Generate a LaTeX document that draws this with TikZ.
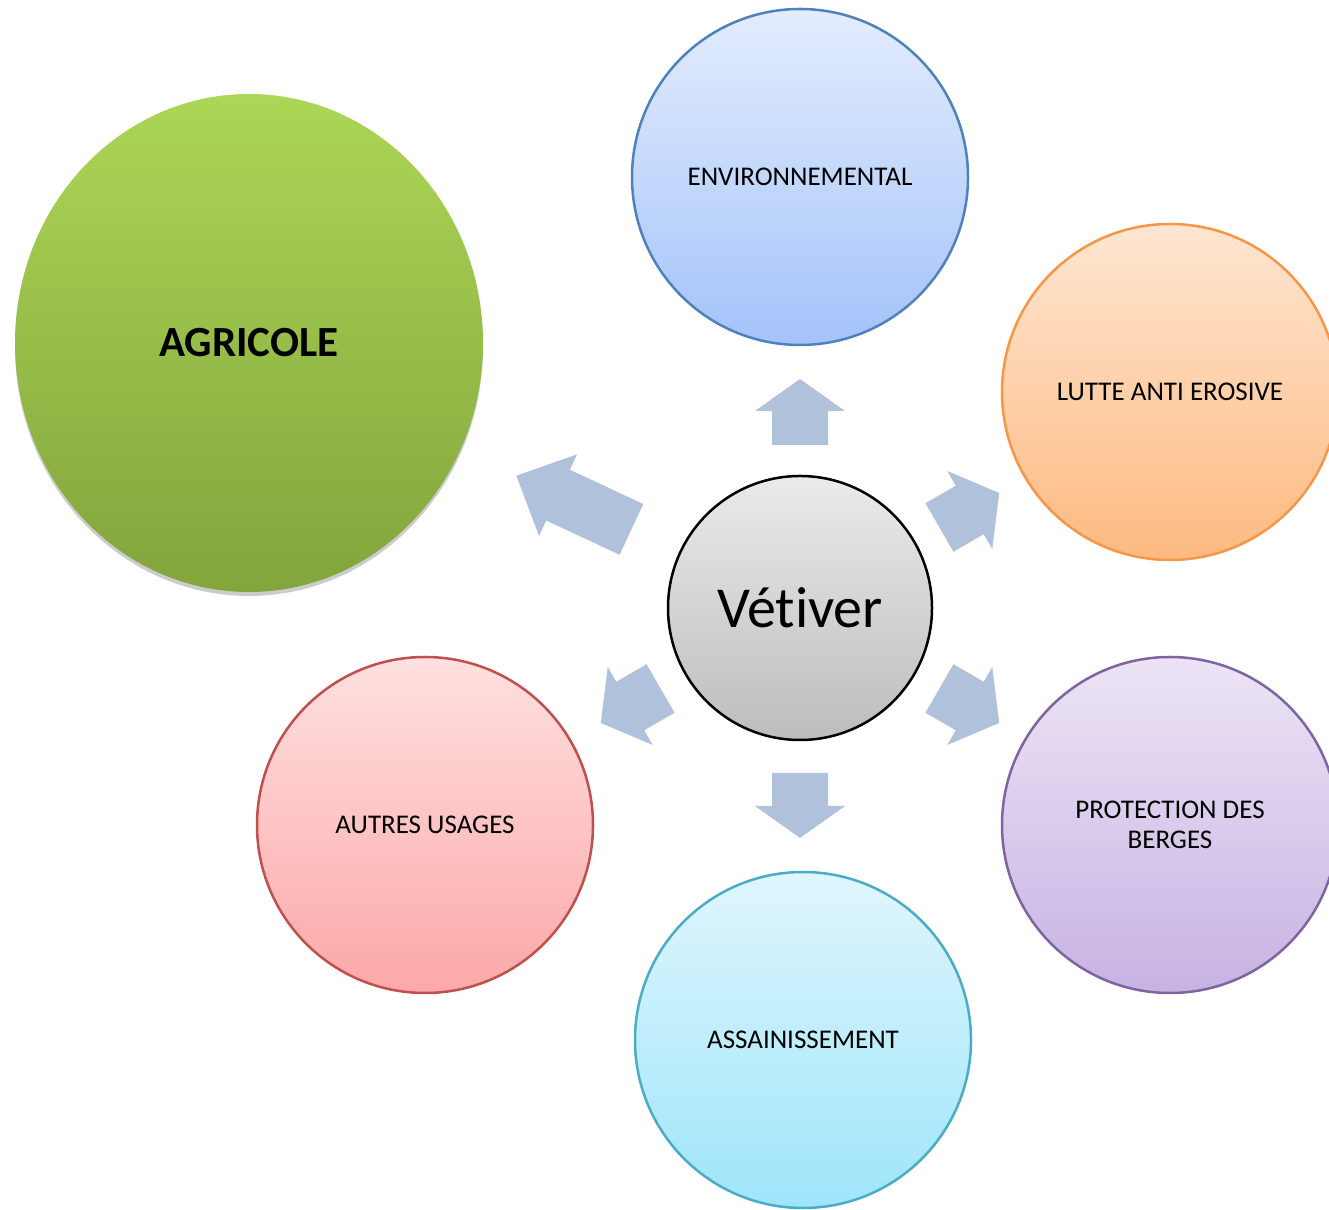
\documentclass[tikz,border=0pt]{standalone}
\usepackage{fontspec}
\setmainfont[Ligatures=NoCommon]{Carlito}
\usetikzlibrary{shadows,shapes.geometric}

\definecolor{spokeblue}{RGB}{176,193,220}
\definecolor{envline}{RGB}{79,129,189}
\definecolor{lutteline}{RGB}{247,150,70}
\definecolor{bergeline}{RGB}{128,100,162}
\definecolor{assainline}{RGB}{75,172,198}
\definecolor{autreline}{RGB}{192,80,77}

\tikzset{usage/.style={draw, circle, line width=2.5pt, minimum size=336pt, inner sep=0pt, align=center, font=\fontsize{27}{30}\selectfont}}
\tikzset{spokefill/.style={fill=spokeblue}}

% block arrow out of the centre: angle, start radius, end radius, head length
\newcommand{\usagearrow}[4]{%
	\begin{scope}[shift={(vet.center)}, rotate=#1]
		\fill[spokefill] (#2,-28) -- ({#3-#4},-28) -- ({#3-#4},-45) -- (#3,0) -- ({#3-#4},45) -- ({#3-#4},28) -- (#2,28) -- cycle;
	\end{scope}}

\begin{document}
\begin{tikzpicture}[x=1pt,y=1pt]
	\useasboundingbox (0,0) rectangle (1329,1209);

	% Centre
	\node[draw=black, circle, line width=2.5pt, minimum size=264pt, inner sep=0pt, top color=black!8, bottom color=black!26, font=\fontsize{58}{60}\selectfont] (vet) at (800,601) {Vétiver};

	% Usages
	\node[ellipse, minimum width=468pt, minimum height=498pt, inner sep=0pt, top color={rgb,255:red,172;green,214;blue,86}, bottom color={rgb,255:red,130;green,165;blue,60}, drop shadow={shadow xshift=0pt, shadow yshift=-4pt, opacity=.4}, font=\fontsize{43}{46}\selectfont\bfseries] (agri) at (249,866) {AGRICOLE};

	\node[usage, draw=envline, top color={rgb,255:red,227;green,237;blue,253}, bottom color={rgb,255:red,164;green,195;blue,250}] (env) at (800,1032) {ENVIRONNEMENTAL};
	\node[usage, draw=lutteline, top color={rgb,255:red,254;green,230;blue,210}, bottom color={rgb,255:red,253;green,186;blue,128}] (lutte) at (1170,817) {LUTTE ANTI EROSIVE};
	\node[usage, draw=bergeline, top color={rgb,255:red,236;green,228;blue,245}, bottom color={rgb,255:red,199;green,179;blue,227}] (berges) at (1170,384) {PROTECTION DES\\BERGES};
	\node[usage, draw=assainline, top color={rgb,255:red,224;green,246;blue,253}, bottom color={rgb,255:red,158;green,229;blue,250}] (assain) at (803,169) {ASSAINISSEMENT};
	\node[usage, draw=autreline, top color={rgb,255:red,255;green,224;blue,224}, bottom color={rgb,255:red,252;green,168;blue,168}] (autres) at (425,384) {AUTRES USAGES};

	% Arrows
	\usagearrow{90}{163}{229}{32}
	\usagearrow{-90}{165}{230}{32}
	\usagearrow{30}{161}{230}{34}
	\usagearrow{-30}{161}{230}{34}
	\usagearrow{-150}{161}{230}{34}
	\usagearrow{155}{186}{313}{46}

\end{tikzpicture}
\end{document}
